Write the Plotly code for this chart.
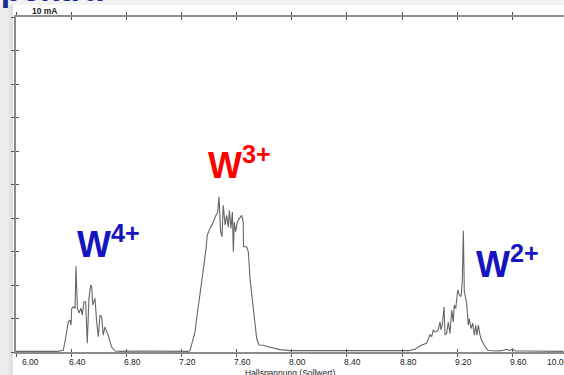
import plotly.graph_objects as go

# Hall voltage (set value) and ion current in mA, grouped by charge state
w4_voltage = [6.30, 6.343, 6.368, 6.379, 6.392, 6.399, 6.404, 6.416, 6.428, 6.435, 6.445,
              6.457, 6.471, 6.481, 6.493, 6.505, 6.517, 6.529, 6.542, 6.549, 6.556,
              6.573, 6.585, 6.597, 6.609, 6.621, 6.633, 6.645, 6.658, 6.669, 6.682,
              6.694, 6.718]
w4_current = [0.02, 0.05, 0.60, 0.90, 0.95, 0.80, 1.30, 1.35, 1.30, 2.56, 1.31,
              1.16, 1.31, 1.10, 1.50, 1.50, 0.26, 1.60, 2.00, 1.95, 1.40,
              1.60, 0.90, 0.46, 1.10, 1.05, 0.50, 0.75, 0.60, 0.50, 0.30,
              0.15, 0.03]

w3_voltage = [7.25, 7.262, 7.281, 7.298, 7.310, 7.322, 7.339, 7.354, 7.363, 7.378, 7.387,
              7.407, 7.431, 7.450, 7.463, 7.472, 7.484, 7.494, 7.503, 7.516, 7.528,
              7.540, 7.547, 7.559, 7.569, 7.576, 7.583, 7.593, 7.605, 7.619, 7.637,
              7.648, 7.650, 7.673, 7.685, 7.697, 7.709, 7.721, 7.733, 7.745, 7.762,
              7.793, 7.842, 7.914, 7.987]
w3_current = [0.02, 0.04, 0.31, 0.60, 1.00, 1.40, 1.80, 2.30, 2.60, 3.09, 3.49,
              3.69, 3.88, 4.08, 4.18, 4.63, 3.59, 3.44, 4.38, 3.79, 4.08,
              3.73, 4.23, 3.69, 4.18, 2.99, 3.88, 3.59, 3.88, 3.98, 4.08,
              3.88, 3.14, 3.14, 2.99, 2.19, 1.70, 1.20, 0.80, 0.41, 0.21,
              0.20, 0.14, 0.07, 0.04]

w2_voltage = [8.85, 8.893, 8.942, 8.978, 9.002, 9.014, 9.026, 9.038, 9.051, 9.062, 9.075,
              9.082, 9.091, 9.104, 9.111, 9.123, 9.135, 9.147, 9.160, 9.171, 9.178,
              9.189, 9.203, 9.215, 9.227, 9.236, 9.244, 9.251, 9.261, 9.268, 9.280,
              9.287, 9.300, 9.312, 9.324, 9.334, 9.343, 9.353, 9.365, 9.376, 9.396,
              9.420, 9.474]
w2_current = [0.04, 0.08, 0.21, 0.26, 0.51, 0.45, 0.66, 0.60, 0.61, 0.66, 0.90,
              0.66, 0.80, 1.35, 0.51, 0.55, 0.90, 0.55, 1.25, 0.90, 1.40,
              1.30, 1.85, 1.70, 1.65, 2.10, 3.62, 1.80, 1.55, 1.45, 0.80,
              1.00, 0.70, 0.86, 0.50, 0.80, 0.50, 0.80, 0.50, 0.35, 0.20,
              0.05, 0.03]

# Quiet baseline between the peaks
base_voltage = [6.00, 6.10, 6.20, 6.76, 6.90, 7.05, 7.18, 8.05, 8.20, 8.40, 8.60, 8.75,
                9.52, 9.56, 9.58, 9.60, 9.62, 9.70, 9.85, 9.97]
base_current = [0.02, 0.03, 0.02, 0.02, 0.03, 0.02, 0.03, 0.04, 0.03, 0.03, 0.03, 0.04,
                0.04, 0.08, 0.04, 0.09, 0.03, 0.03, 0.02, 0.02]

tick_values = [6.0, 6.4, 6.8, 7.2, 7.6, 8.0, 8.4, 8.8, 9.2, 9.6, 10.0]
tick_labels = ["6.00", "6.40", "6.80", "7.20", "7.60", "8.00", "8.40", "8.80",
               "9.20", "9.60", "10.00"]
current_ticks = [0, 1, 2, 3, 4, 5, 6, 7, 8, 9, 10]

points = sorted(zip(w4_voltage + w3_voltage + w2_voltage + base_voltage,
                    w4_current + w3_current + w2_current + base_current))
voltage = [p[0] for p in points]
current = [p[1] for p in points]

W, H = 564, 375
ML, MR, MT, MB = 16, 0, 17, 23
PW = W - ML - MR
PH = H - MT - MB
X0, X1 = 6.0, 6.0 + PW / 137.9
Y0, Y1 = 0.0, 10.0

AXIS_GREY = "#8c8c8c"
FONT = "Liberation Sans, Arial, sans-serif"


def px_x(p):
    return (p - ML) / PW


def px_y(p):
    return (H - MB - p) / PH


fig = go.Figure()
fig.add_trace(go.Scatter(x=voltage, y=current, mode="lines",
                         line=dict(color="#666666", width=1.1),
                         hoverinfo="skip", showlegend=False))
# invisible companion trace so the inner tick axes get drawn
fig.add_trace(go.Scatter(x=[X0, X1], y=[Y0, Y1], xaxis="x2", yaxis="y2",
                         mode="lines", line=dict(width=0, color="rgba(0,0,0,0)"),
                         hoverinfo="skip", showlegend=False))

axis_common = dict(showgrid=False, zeroline=False, showticklabels=False,
                   tickcolor="#555", tickwidth=1.2, ticklen=3, automargin=False)
fig.update_layout(
    width=W, height=H,
    margin=dict(l=ML, r=MR, t=MT, b=MB, autoexpand=False),
    paper_bgcolor="white", plot_bgcolor="white",
    xaxis=dict(range=[X0, X1], tickvals=tick_values, ticks="outside",
               showline=True, linecolor=AXIS_GREY, linewidth=1.5, mirror="ticks",
               **axis_common),
    yaxis=dict(range=[Y0, Y1], tickvals=current_ticks, ticks="outside",
               showline=True, linecolor=AXIS_GREY, linewidth=1.5, mirror=False,
               **axis_common),
    xaxis2=dict(range=[X0, X1], tickvals=tick_values, ticks="inside", overlaying="x",
                showline=False, mirror="ticks", **axis_common),
    yaxis2=dict(range=[Y0, Y1], tickvals=current_ticks, ticks="inside", overlaying="y",
                showline=False, mirror=False, **axis_common),
)

# slide backdrop: soft shadow down the left edge and a faint band along the top
shapes = [
    dict(type="rect", xref="paper", yref="paper", x0=px_x(0), x1=px_x(13),
         y0=px_y(H), y1=px_y(0), fillcolor="#ececec", line=dict(width=0), layer="below"),
    dict(type="rect", xref="paper", yref="paper", x0=px_x(9), x1=px_x(13),
         y0=px_y(H), y1=px_y(0), fillcolor="#e2e2e2", line=dict(width=0), layer="below"),
    dict(type="rect", xref="paper", yref="paper", x0=px_x(0), x1=px_x(W),
         y0=px_y(5), y1=px_y(0), fillcolor="#f2f2f2", line=dict(width=0), layer="below"),
]
fig.update_layout(shapes=shapes)

ann = []
# x tick labels, set slightly right of each tick
for v, t in zip(tick_values, tick_labels):
    if v == tick_values[0]:
        ann.append(dict(x=v, y=px_y(355), xref="x", yref="paper", text=t,
                        showarrow=False, xanchor="left", yanchor="top", xshift=4,
                        font=dict(family=FONT, size=8.5, color="#222")))
    elif v == tick_values[-1]:
        ann.append(dict(x=X1, y=px_y(355), xref="x", yref="paper", text=t,
                        showarrow=False, xanchor="left", yanchor="top", xshift=-19,
                        font=dict(family=FONT, size=8.5, color="#222")))
    else:
        ann.append(dict(x=v, y=px_y(355), xref="x", yref="paper", text=t,
                        showarrow=False, xanchor="center", yanchor="top", xshift=6,
                        font=dict(family=FONT, size=8.5, color="#222")))

ann += [
    dict(x=px_x(30), y=px_y(11), xref="paper", yref="paper", text="<b>10 mA</b>",
         showarrow=False, xanchor="left", yanchor="middle",
         font=dict(family=FONT, size=8.5, color="#222")),
    dict(x=px_x(290), y=px_y(366), xref="paper", yref="paper",
         text="Hallspannung (Sollwert)", showarrow=False, xanchor="center",
         yanchor="top", font=dict(family=FONT, size=8.5, color="#222")),
    dict(x=px_x(-24), y=px_y(-32), xref="paper", yref="paper", text="<b>Spektra</b>",
         showarrow=False, xanchor="left", yanchor="top",
         font=dict(family=FONT, size=34, color="#1b2a8c")),
    dict(x=px_x(108), y=px_y(242), xref="paper", yref="paper",
         text="<b>W<sup>4+</sup></b>", showarrow=False, xanchor="center", yanchor="middle",
         font=dict(family=FONT, size=36, color="#1414c0")),
    dict(x=px_x(239), y=px_y(163), xref="paper", yref="paper",
         text="<b>W<sup>3+</sup></b>", showarrow=False, xanchor="center", yanchor="middle",
         font=dict(family=FONT, size=36, color="#ff0000")),
    dict(x=px_x(507), y=px_y(262), xref="paper", yref="paper",
         text="<b>W<sup>2+</sup></b>", showarrow=False, xanchor="center", yanchor="middle",
         font=dict(family=FONT, size=36, color="#1414c0")),
]
fig.update_layout(annotations=ann)

fig.write_html("out.html")
